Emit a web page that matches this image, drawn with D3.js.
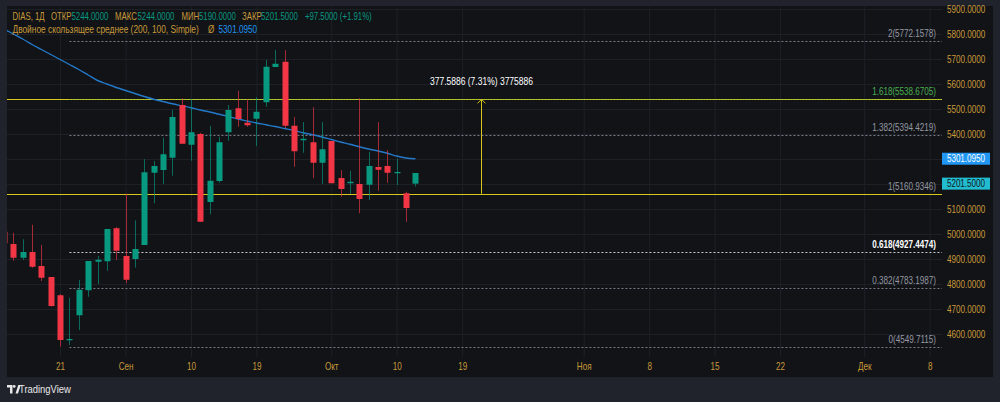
<!DOCTYPE html>
<html><head><meta charset="utf-8">
<script src="https://cdn.jsdelivr.net/npm/d3@7/dist/d3.min.js"></script>
<style>
html,body{margin:0;padding:0;background:#20232c;}
svg{display:block;}
text{font-family:"Liberation Sans",Arial,sans-serif;}
</style></head><body>
<svg id="c" width="1000" height="402"></svg>
<script>
// ---- data ----
const opens  = [5009,4960,4905,4928,4872,4828,4755,4575,4675,4775,4889,4891,5023,4912,4900,4956,5245,5256,5305,5516,5357,5400,5128,5212,5407,5503,5445,5461,5527,5668,5689,5433,5375,5367,5285,5372,5224,5203,5200,5197,5268,5272,5243,5163,5244];
const highs  = [5012,5005,4979,5037,4956,4828,4760,4745,4816,4892,4912,5020,5028,5160.9,5055,5299,5292,5385,5496,5543,5540,5405,5432,5389,5516,5573,5539,5547,5696,5736,5736,5468,5448,5507,5448,5372,5256,5253,5543,5329,5448,5336,5301,5169,5244];
const lows   = [4960,4893,4896,4865,4812,4710,4549.7,4556,4616,4749,4800,4853,4896,4803,4865,4956,5123,5200,5233,5361,5293,5049,5079,5205,5373,5429,5429,5352,5509,5668,5423,5269,5325,5223,5200,5203,5149,5160,5083,5136,5173,5205,5196,5049,5190];
const closes = [4963,4905,4928,4869,4825,4712,4576,4580,4777,4892,4897,5020,4933,4817,4940,5247,5272,5319,5468,5361,5407,5049,5213,5367,5496,5460,5435,5489,5669,5681,5433,5331,5381,5285,5339,5203,5180,5209,5140,5272,5257,5245,5248,5104,5201.5];
const maValues = [5820,5800,5780,5758,5738,5718,5698,5678,5658,5636,5614,5600,5586,5574,5562,5550,5539,5530,5521,5513,5505,5496,5488,5479,5470,5460,5452,5444,5437,5430,5422,5414,5405,5397,5388,5378,5368,5359,5349,5340,5332,5323,5312,5304,5301.095];
const priceTicks = [4600,4700,4800,4900,5000,5100,5200,5300,5400,5500,5600,5700,5800,5900];
const timeTickIdx = [6,13,20,27,35,42,49,62,69,76,83,92,99];
const timeTickLabels = ["21","Сен","10","19","Окт","10","19","Ноя","8","15","22","Дек","8"];
const fibLevels = ["0","0.382","0.618","1","1.382","1.618","2"];
const fibPrices = [4549.7115,4783.1987,4927.4474,5160.9346,5394.4219,5538.6705,5772.1578];
const fibStartIdx = 7;
const hLinePrices = [5538.6705,5160.9346];
const measureIdx = 51, measureFrom = 5160.9346, measureTo = 5538.5232;
const measureText = "377.5886 (7.31%) 3775886";
const lastClose = 5201.5, lastMA = 5301.095;
const legendLabels = ["DIAS, 1Д","ОТКР","5244.0000","МАКС","5244.0000","МИН","5190.0000","ЗАКР","5201.5000","+97.5000 (+1.91%)"];
const maLegend = "Двойное скользящее среднее (200, 100, Simple)";

// ---- layout ----
const W=1000,H=402;
const P={l:7,r:942,t:7,b:357};
const svg=d3.select("#c");
const x=d3.scaleLinear().domain([0,100]).range([4,939]);
const y=d3.scaleLinear().domain([4508,5908]).range([357,7]);
const gold="#c99a3a", up="#089981", dn="#f23645", yellow="#d8c81e";

svg.append("rect").attr("width",W).attr("height",H).attr("fill","#20232c");
svg.append("rect").attr("x",7).attr("y",6).attr("width",986).attr("height",371).attr("fill","#111317");

svg.append("clipPath").attr("id","plot").append("rect")
  .attr("x",P.l).attr("y",P.t).attr("width",P.r-P.l).attr("height",P.b-P.t);

// grid
const grid=svg.append("g").attr("clip-path","url(#plot)");
grid.append("g").attr("transform",`translate(${P.l},0)`)
  .call(d3.axisRight(y).tickValues(priceTicks).tickSize(P.r-P.l).tickFormat(""))
  .call(g=>{g.select(".domain").remove();g.selectAll("line").attr("stroke","#1d2027");});
grid.append("g").attr("transform",`translate(0,${P.t})`)
  .call(d3.axisBottom(x).tickValues(timeTickIdx).tickSize(P.b-P.t).tickFormat(""))
  .call(g=>{g.select(".domain").remove();g.selectAll("line").attr("stroke","#1d2027");});

const plot=svg.append("g").attr("clip-path","url(#plot)");

// fib lines
const fibColor=(l)=>l==="1.618"?"#4caf50":(l==="0.618"?"#c8cad0":"#787b86");
fibPrices.forEach((p,i)=>{
  const yy=Math.round(y(p))+0.5;
  plot.append("line").attr("x1",x(fibStartIdx)).attr("x2",P.r).attr("y1",yy).attr("y2",yy)
    .attr("stroke",fibColor(fibLevels[i])).attr("stroke-width",1).attr("stroke-dasharray","2,2");
});
// horizontal yellow lines
hLinePrices.forEach(p=>{
  const yy=Math.round(y(p))+0.5;
  plot.append("line").attr("x1",P.l).attr("x2",P.r).attr("y1",yy).attr("y2",yy)
    .attr("stroke",yellow).attr("stroke-width",1);
});
{
  const yy=Math.round(y(fibPrices[5]))+0.5;
  plot.append("line").attr("x1",x(fibStartIdx)).attr("x2",P.r).attr("y1",yy).attr("y2",yy)
    .attr("stroke","#4caf50").attr("stroke-dasharray","1,2").attr("opacity",0.8);
}

// MA line
plot.append("path").datum(maValues)
  .attr("d",d3.line().x((d,i)=>x(i)).y(d=>y(d)).curve(d3.curveMonotoneX))
  .attr("fill","none").attr("stroke","#2479c9").attr("stroke-width",1.4);

// candles
const candles=plot.append("g");
opens.forEach((o,i)=>{
  const c=closes[i];
  const isUp = i===0 ? c>=o : c>=closes[i-1];
  const col=isUp?up:dn;
  const cx=Math.round(x(i));
  candles.append("line").attr("x1",cx+0.5).attr("x2",cx+0.5)
    .attr("y1",y(highs[i])).attr("y2",y(lows[i]))
    .attr("stroke",col).attr("stroke-opacity",0.65).attr("stroke-width",1);
  const top=y(Math.max(o,c)), bot=y(Math.min(o,c));
  candles.append("rect").attr("x",cx-2.5).attr("width",6)
    .attr("y",top).attr("height",Math.max(1.2,bot-top)).attr("fill",col);
});

// measure
{
  const mx=Math.round(x(measureIdx))+0.5, y1=y(measureFrom), y2=y(measureTo);
  plot.append("line").attr("x1",mx).attr("x2",mx).attr("y1",y1).attr("y2",y2)
    .attr("stroke",yellow).attr("stroke-width",1);
  plot.append("path").attr("d",`M${mx-4},${y2+4}L${mx},${y2}L${mx+4},${y2+4}`)
    .attr("fill","none").attr("stroke",yellow).attr("stroke-width",1);
  svg.append("text").attr("x",mx).attr("y",y2-14).attr("text-anchor","middle")
    .attr("fill","#ffffff").attr("font-size",10.5).text(measureText);
}

// fib labels
fibPrices.forEach((p,i)=>{
  const l=fibLevels[i];
  svg.append("text").attr("x",936).attr("y",y(p)-4).attr("text-anchor","end")
    .attr("font-size",10).attr("fill",l==="1.618"?"#4caf50":(l==="0.618"?"#ffffff":"#9598a1"))
    .attr("font-weight",l==="0.618"?"bold":"normal")
    .text(`${l}(${p.toFixed(4)})`);
});

// price axis (labels hidden where the value boxes sit)
const boxVals=[lastMA,lastClose];
const shownTicks=priceTicks.filter(t=>boxVals.every(b=>Math.abs(y(t)-y(b))>9));
svg.append("g").attr("transform",`translate(${P.r},0)`)
  .call(d3.axisRight(y).tickValues(shownTicks).tickSize(0).tickPadding(5).tickFormat(d=>d.toFixed(4)))
  .call(g=>{g.select(".domain").remove();g.selectAll("text").attr("fill",gold).attr("font-size",10);});

// time axis
svg.append("g").attr("transform",`translate(0,${P.b})`)
  .call(d3.axisBottom(x).tickValues(timeTickIdx).tickSize(0).tickPadding(6)
    .tickFormat((d,i)=>timeTickLabels[i]))
  .call(g=>{g.select(".domain").remove();g.selectAll("text").attr("fill",gold).attr("font-size",10);});

// price boxes
function box(v,fill,tc){
  const yy=y(v);
  svg.append("rect").attr("x",942).attr("y",yy-6).attr("width",48).attr("height",12).attr("fill",fill);
  svg.append("text").attr("x",966).attr("y",yy).attr("dy","0.35em").attr("text-anchor","middle")
    .attr("font-size",10).attr("fill",tc).text(v.toFixed(4));
}
box(lastMA,"#2196f3","#ffffff");
box(lastClose,"#22bcd0","#131722");

// legend (separate pieces so each can be positioned)
const legX=[12.5,51,71.5,115,137.5,181.5,199,242,261,305];
legendLabels.forEach((t,i)=>{
  const isVal = i===2||i===4||i===6||i===8||i===9;
  svg.append("text").attr("x",legX[i]).attr("y",20).attr("font-size",10)
    .attr("fill",isVal?up:gold).attr("data-k",0.78).text(t);
});
svg.append("text").attr("x",12.5).attr("y",33).attr("font-size",10).attr("fill",gold)
  .attr("data-k",0.835).text(maLegend);
svg.append("text").attr("x",208).attr("y",33).attr("font-size",10).attr("fill",gold).text("Ø");
svg.append("text").attr("x",218.5).attr("y",33).attr("font-size",10).attr("fill","#2196f3")
  .attr("data-k",0.82).text(lastMA.toFixed(4));

// TradingView logo
const logo=svg.append("g").attr("transform","translate(7,385)");
logo.append("path").attr("d","M0,0H5.5V8.5H3V2.5H0Z").attr("fill","#e8e8e8");
logo.append("circle").attr("cx",7.2).attr("cy",1.4).attr("r",1.4).attr("fill","#e8e8e8");
logo.append("path").attr("d","M8.5,8.5L11.3,0H13.8L11,8.5Z").attr("fill","#e8e8e8");
svg.append("text").attr("x",19).attr("y",393).attr("font-size",10.5).attr("fill","#e8e8e8")
  .attr("data-k",0.9).text("TradingView");

// the reference uses a condensed face: compress every label horizontally about its anchor
svg.selectAll("text").each(function(){
  const k=+(this.getAttribute("data-k")||0.81);
  const ax=+(this.getAttribute("x")||0);
  this.setAttribute("transform",`matrix(${k},0,0,1,${(ax*(1-k)).toFixed(3)},0)`);
});
</script>
</body></html>
